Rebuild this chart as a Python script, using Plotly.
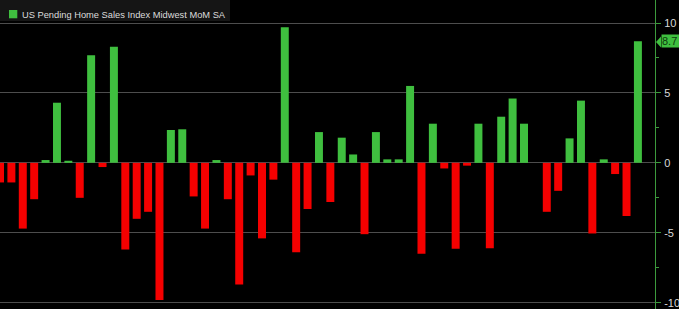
import plotly.graph_objects as go

periods = list(range(57))
values = [-1.4, -1.4, -4.7, -2.6, 0.2, 4.3, 0.15, -2.5, 7.7, -0.3,
          8.3, -6.2, -4.0, -3.5, -9.8, 2.35, 2.4, -2.4, -4.7, 0.2,
          -2.6, -8.7, -0.9, -5.4, -1.2, 9.7, -6.4, -3.3, 2.2, -2.8,
          1.8, 0.6, -5.1, 2.2, 0.25, 0.25, 5.5, -6.5, 2.8, -0.4,
          -6.15, -0.2, 2.8, -6.1, 3.3, 4.6, 2.8, 0.0, -3.5, -2.0,
          1.75, 4.45, -5.05, 0.25, -0.8, -3.8, 8.7]
tick_vals = [-10, -5, 0, 5, 10]
tick_text = ["-10", "-5", "0", "5", "10"]
series_name = "US Pending Home Sales Index Midwest MoM SA"
last_label = "8.7"

GREEN = "#3fbf3f"
RED = "#f50000"
AXIS_GREEN = "#3c9a3c"

W, H = 679, 309
ML, MR = 0, 24
PW = W - ML - MR

def px(x):
    return x / PW

def py(y):
    return 1 - y / H

colors = [GREEN if v >= 0 else RED for v in values]

fig = go.Figure()
fig.add_trace(go.Bar(x=periods, y=values, marker=dict(color=colors, line=dict(width=0)),
                     width=0.7, name=series_name, showlegend=False))

fig.update_layout(
    width=W, height=H,
    margin=dict(l=ML, r=MR, t=0, b=0, pad=0),
    paper_bgcolor="#000000", plot_bgcolor="#000000",
    xaxis=dict(range=[0.0, 57.5], showgrid=False, zeroline=False, showticklabels=False,
               ticks="", showline=False),
    yaxis=dict(range=[-10.45, 11.645], side="right", tickvals=tick_vals, ticktext=tick_text,
               showgrid=True, gridcolor="#4d4d4d", gridwidth=1, zeroline=False,
               showline=True, linecolor=AXIS_GREEN, linewidth=1,
               ticks="outside", ticklen=5, tickcolor=AXIS_GREEN, tickwidth=1,
               minor=dict(tickvals=[-7.5, -2.5, 2.5, 7.5], ticks="outside", ticklen=3,
                          tickcolor=AXIS_GREEN, showgrid=False),
               tickfont=dict(family="Liberation Sans", size=11, color="#d8d8d8"),
               ticklabelstandoff=1),
    font=dict(family="Liberation Sans", size=11, color="#d8d8d8"),
    shapes=[
        dict(type="rect", xref="paper", yref="paper", x0=px(0), x1=px(230), y0=py(21), y1=py(0),
             fillcolor="#151515", line=dict(width=0), layer="above"),
        dict(type="rect", xref="paper", yref="paper", x0=px(9), x1=px(17.3), y0=py(18.3), y1=py(10),
             fillcolor=GREEN, line=dict(width=0), layer="above"),
        dict(type="path", xref="paper", yref="paper",
             path=f"M {px(656)} {py(42)} L {px(661)} {py(36.5)} L {px(661)} {py(47.5)} Z",
             fillcolor=GREEN, line=dict(width=0), layer="above"),
    ],
    annotations=[
        dict(text=series_name, xref="paper", yref="paper", x=px(20), y=py(14.5),
             xanchor="left", yanchor="middle", showarrow=False,
             font=dict(family="Liberation Sans", size=9.3, color="#dcdcdc")),
        dict(text=last_label, xref="paper", yref="y", x=px(661), y=values[-1],
             xanchor="left", yanchor="middle", showarrow=False, bgcolor=GREEN,
             borderpad=0, width=18, align="left",
             font=dict(family="Liberation Sans", size=11, color="#0c3a0c")),
    ],
)

fig.write_html("out.html")
